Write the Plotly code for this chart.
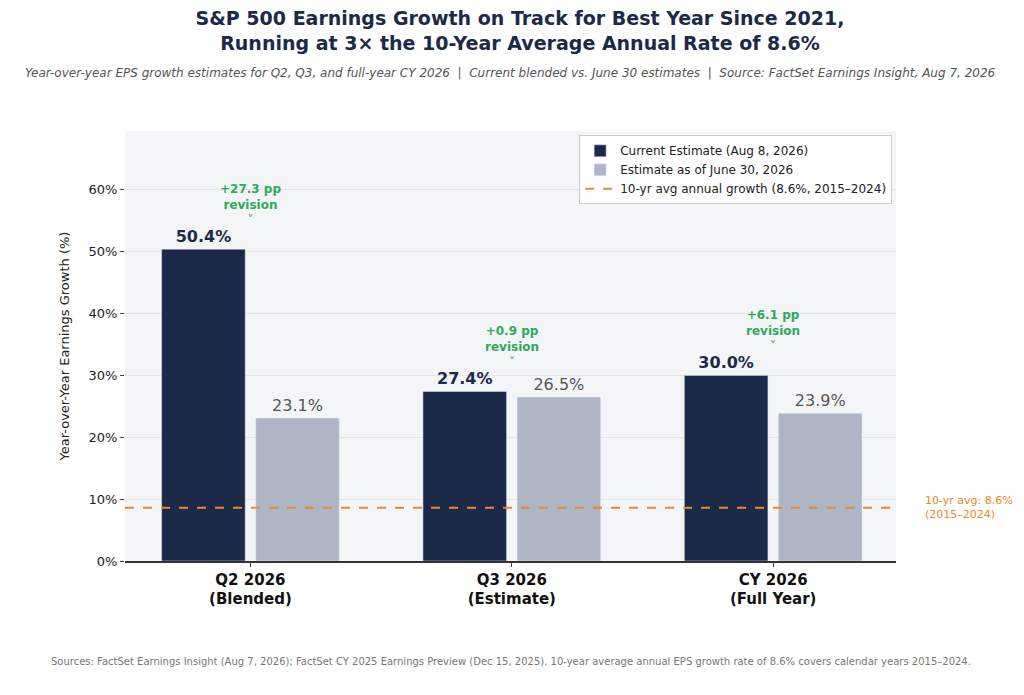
import plotly.graph_objects as go

categories = ["Q2 2026<br>(Blended)", "Q3 2026<br>(Estimate)", "CY 2026<br>(Full Year)"]
current = [50.4, 27.4, 30.0]
june30 = [23.1, 26.5, 23.9]
revisions = ["+27.3 pp", "+0.9 pp", "+6.1 pp"]
avg_10yr = 8.6

NAVY = "#1c2a4a"
GREY = "#aeb6c6"
ORANGE = "#f0862a"
GREEN = "#2eaa5c"
FONT = "DejaVu Sans"

xs = list(range(len(categories)))
fig = go.Figure()
fig.add_trace(go.Bar(
    x=xs, y=current, width=0.32, offset=-0.34, marker_color=NAVY,
    name="Current Estimate (Aug 8, 2026)",
    text=[f"<b>{v:.1f}%</b>" for v in current], textposition="outside",
    textfont=dict(size=16, color=NAVY), cliponaxis=False,
))
fig.add_trace(go.Bar(
    x=xs, y=june30, width=0.32, offset=0.02, marker_color=GREY,
    name="Estimate as of June 30, 2026",
    text=[f"{v:.1f}%" for v in june30], textposition="outside",
    textfont=dict(size=16, color="#555555"), cliponaxis=False,
))
fig.add_trace(go.Scatter(
    x=[-0.48, 2.47], y=[avg_10yr, avg_10yr], mode="lines",
    line=dict(color=ORANGE, width=2, dash="dash"),
    name="10-yr avg annual growth (8.6%, 2015–2024)",
))

for i, (c, r) in enumerate(zip(current, revisions)):
    fig.add_annotation(
        x=i, y=c + 5.5, text=f"<b>{r}<br>revision</b><br>˅", showarrow=False,
        font=dict(size=12, color=GREEN, family=FONT), yanchor="bottom",
        yshift=-14, align="center",
    )

fig.add_annotation(
    xref="paper", x=1.035, y=avg_10yr, text="10-yr avg: 8.6%<br>(2015–2024)",
    showarrow=False, xanchor="left", align="left",
    font=dict(size=11, color=ORANGE, family=FONT),
)

fig.update_layout(
    width=1024, height=695,
    paper_bgcolor="white", plot_bgcolor="#f4f5f7",
    font=dict(family=FONT, size=12, color="#222222"),
    margin=dict(l=117, r=136, t=123, b=142),
    title=dict(
        text="<b>S&P 500 Earnings Growth on Track for Best Year Since 2021,<br>"
             "Running at 3× the 10-Year Average Annual Rate of 8.6%</b>",
        x=0.5, xanchor="center", y=0.975, yanchor="top",
        font=dict(size=19, color="#1c2a4a"),
    ),
    showlegend=True,
    legend=dict(
        x=0.995, y=0.99, xanchor="right", yanchor="top",
        bgcolor="rgba(255,255,255,0.9)", bordercolor="#cccccc", borderwidth=1,
        font=dict(size=12),
    ),
    xaxis=dict(
        tickvals=xs, ticktext=[f"<b>{c}</b>" for c in categories],
        range=[-0.48, 2.47], tickfont=dict(size=15, color="#111111"),
        showline=True, linecolor="#333333", linewidth=1.5,
        ticks="outside", ticklen=4, showgrid=False, zeroline=False,
    ),
    yaxis=dict(
        range=[0, 69.5], tickvals=[0, 10, 20, 30, 40, 50, 60],
        ticktext=["0%", "10%", "20%", "30%", "40%", "50%", "60%"],
        ticks="outside", ticklen=4, gridcolor="#e2e4e8", zeroline=False,
        title=dict(text="Year-over-Year Earnings Growth (%)", font=dict(size=13)),
        tickfont=dict(size=13),
    ),
)

fig.add_annotation(
    xref="paper", yref="paper", x=0.5, y=1.155, xanchor="center",
    text="<i>Year-over-year EPS growth estimates for Q2, Q3, and full-year CY 2026  |  "
         "Current blended vs. June 30 estimates  |  Source: FactSet Earnings Insight, Aug 7, 2026</i>",
    showarrow=False, font=dict(size=12, color="#555555"),
)
fig.add_annotation(
    xref="paper", yref="paper", x=0.5, y=-0.25, xanchor="center",
    text="Sources: FactSet Earnings Insight (Aug 7, 2026); FactSet CY 2025 Earnings Preview (Dec 15, 2025). "
         "10-year average annual EPS growth rate of 8.6% covers calendar years 2015–2024.",
    showarrow=False, font=dict(size=10, color="#777777"),
)

fig.write_html("out.html")
